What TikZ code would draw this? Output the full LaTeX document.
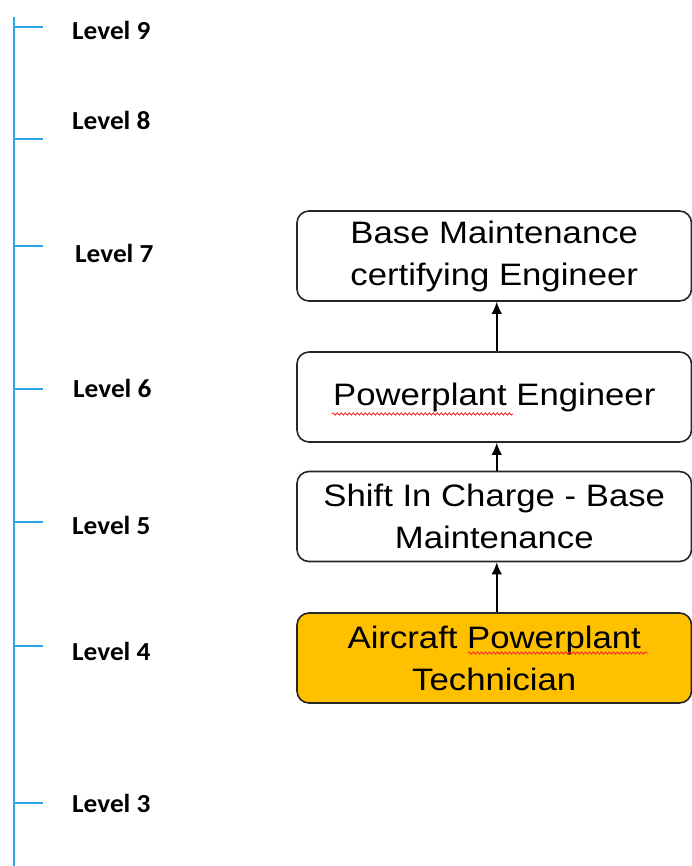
\documentclass[tikz,border=0pt]{standalone}
\usepackage{fontspec}
\setmainfont{Liberation Sans}
\newfontfamily\levelfont{Carlito}
\usetikzlibrary{arrows.meta,decorations.pathmorphing,calc}
\newcommand\hstretch[1]{\scalebox{1.12}[1]{#1}}
\newcommand\lstretch[1]{\scalebox{1.05}[1]{#1}}
\definecolor{axisblue}{HTML}{2AA7E6}
\definecolor{boxorange}{HTML}{FFC000}
\begin{document}
\begin{tikzpicture}[x=1pt,y=-1pt,
  stagebox/.style={draw=black!85,line width=1.6pt,rounded corners=12pt,
    minimum width=394.5pt,minimum height=90pt,inner sep=0pt,align=center,
    font=\fontsize{31}{42}\selectfont},
  lvl/.style={anchor=west,inner sep=0pt,font=\levelfont\bfseries\fontsize{26}{30}\selectfont},
  tick/.style={draw=axisblue,line width=2pt},
  arr/.style={draw=black,line width=1.5pt,-{Latex[length=12pt,width=10.5pt]}},
  spell/.style={draw=red!85,line width=0.9pt,decorate,
    decoration={snake,amplitude=1.1pt,segment length=4pt}}]
\useasboundingbox (0,0) rectangle (692,866);
% axis
\coordinate (atop) at (14,17);
\coordinate (abot) at (14,866);
\draw[tick] (atop) -- (abot);
\foreach \n/\ty/\ly/\lx in {9/27/30/72,8/139/120/72,7/246/253/75,6/389/388/73,5/522/525/72,4/646/651/72,3/803/803/72}{
  \coordinate (t\n) at (14,\ty);
  \coordinate (te\n) at (43,\ty);
  \draw[tick] (t\n) -- (te\n);
  \node[lvl] (l\n) at (\lx,\ly) {\lstretch{Level \n}};
}
% boxes
\node[stagebox] (b7) at (494.25,256) {\hstretch{Base Maintenance}\\\hstretch{certifying Engineer}};
\node[stagebox] (b6) at (494.25,397) {\hstretch{Powerplant Engineer}};
\node[stagebox] (b5) at (494.25,516.5) {\hstretch{Shift In Charge - Base}\\\hstretch{Maintenance}};
\node[stagebox,fill=boxorange] (b4) at (494.25,658) {\hstretch{Aircraft Powerplant}\\\hstretch{Technician}};
% arrows
\draw[arr] ([xshift=2.5pt]b4.north) -- ([xshift=2.5pt]b5.south);
\draw[arr] ([xshift=2.5pt]b5.north) -- ([xshift=2.5pt]b6.south);
\draw[arr] ([xshift=2.5pt]b6.north) -- ([xshift=2.5pt]b7.south);
% spell-check underlines
\coordinate (s6a) at (332,414);
\coordinate (s6b) at (513,414);
\coordinate (s4a) at (468,653);
\coordinate (s4b) at (648,653);
\draw[spell] (s6a) -- (s6b);
\draw[spell] (s4a) -- (s4b);
\end{tikzpicture}
\end{document}
